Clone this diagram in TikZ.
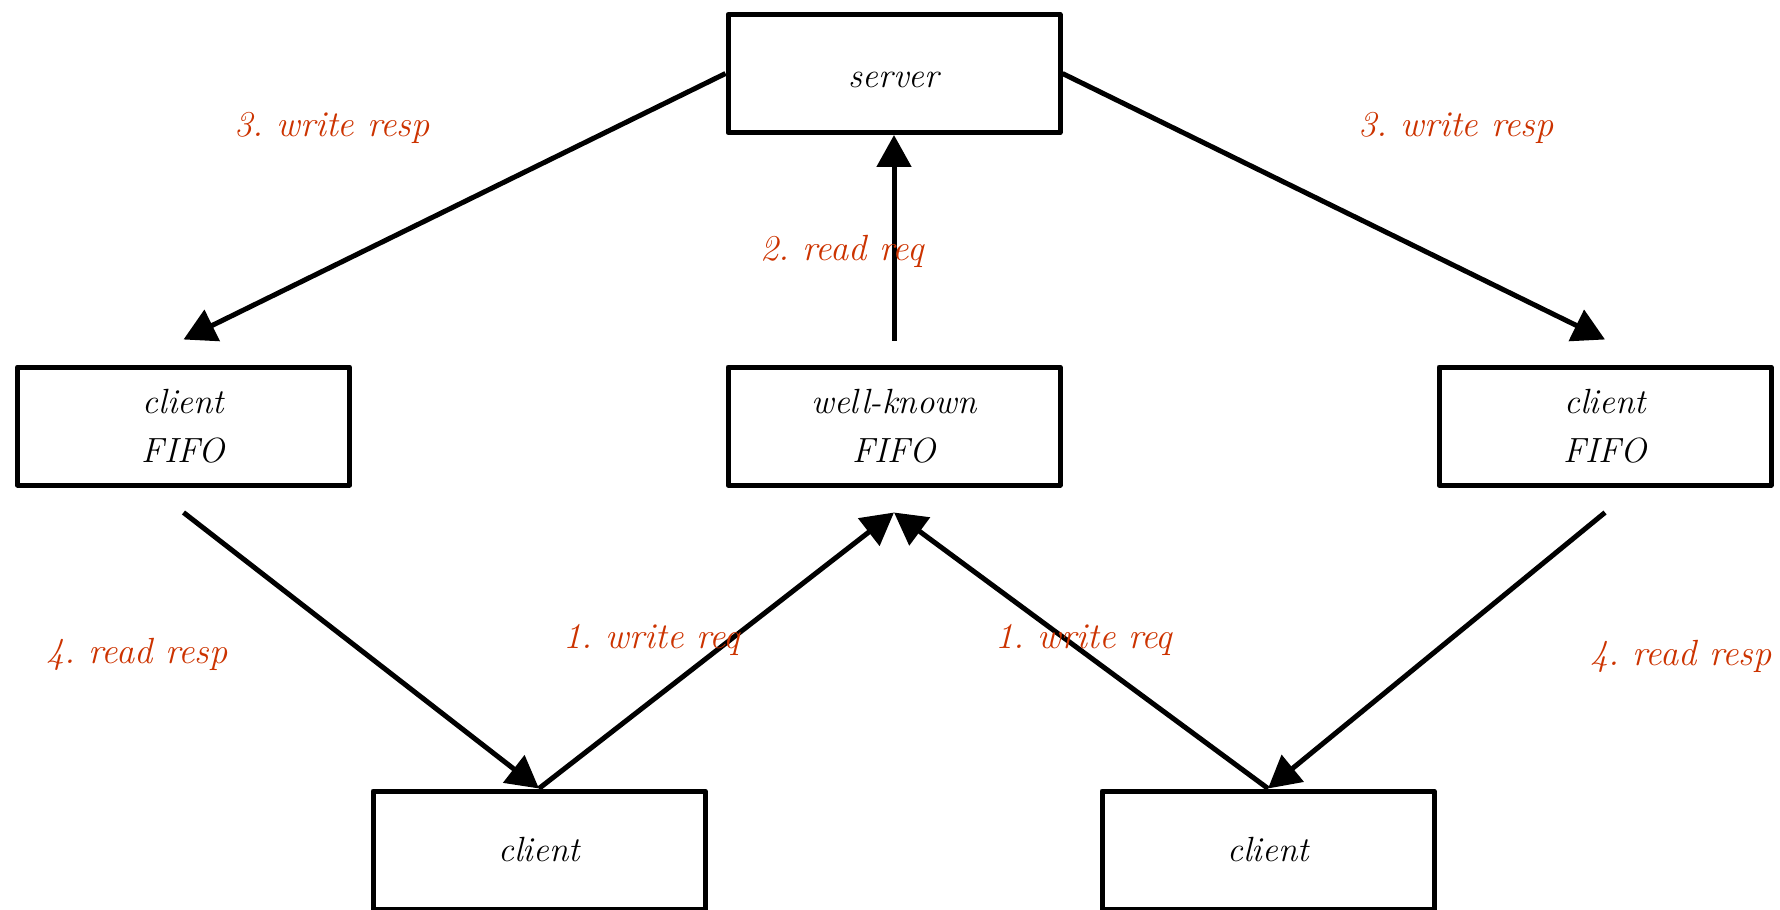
\documentclass[tikz,border=0pt]{standalone}
\usetikzlibrary{arrows.meta}
\definecolor{lblred}{RGB}{204,51,0}
\begin{document}
\frenchspacing
\begin{tikzpicture}[x=0.5pt,y=-0.5pt,
  box/.style={draw, line width=2.5pt, line join=round, minimum width=166pt, minimum height=59pt,
    inner sep=0pt, align=center, font=\fontsize{17.5}{24.5}\selectfont\itshape},
  lbl/.style={text=lblred, font=\fontsize{18.2}{21}\selectfont\itshape, anchor=base, inner sep=0pt},
  arr/.style={line width=2.5pt, -{Triangle[length=16pt,width=17pt]}}]
\useasboundingbox (0,0) rectangle (1780,909);
% boxes
\node[box, text height=14pt, text depth=0pt] (server) at (894,73.5) {server};
\node[box] (lfifo) at (183.5,426) {client\\FIFO};
\node[box] (wkfifo) at (894,426) {well-known\\FIFO};
\node[box] (rfifo) at (1605,426) {client\\FIFO};
\node[box] (lclient) at (539,850) {client};
\node[box] (rclient) at (1268,850) {client};
% connectors
\draw[arr] (server.west) -- ([yshift=12.5pt]lfifo.north);
\draw[arr] (server.east) -- ([yshift=12.5pt]rfifo.north);
\draw[arr] ([yshift=12pt]wkfifo.north) -- (server.south);
\draw[arr] ([yshift=-12.5pt]lfifo.south) -- (lclient.north);
\draw[arr] (lclient.north) -- ([yshift=-12.5pt]wkfifo.south);
\draw[arr] (rclient.north) -- ([yshift=-12.5pt]wkfifo.south);
\draw[arr] ([yshift=-12.5pt]rfifo.south) -- (rclient.north);
% labels
\node[lbl] (l3a) at (332,137) {3. write resp};
\node[lbl] (l3b) at (1456,137) {3. write resp};
\node[lbl] (l2) at (842,260) {2. read req};
\node[lbl] (l1a) at (652,648) {1. write req};
\node[lbl] (l1b) at (1084,648) {1. write req};
\node[lbl] (l4a) at (137,663) {4. read resp};
\node[lbl] (l4b) at (1681,665) {4. read resp};
\end{tikzpicture}
\end{document}
